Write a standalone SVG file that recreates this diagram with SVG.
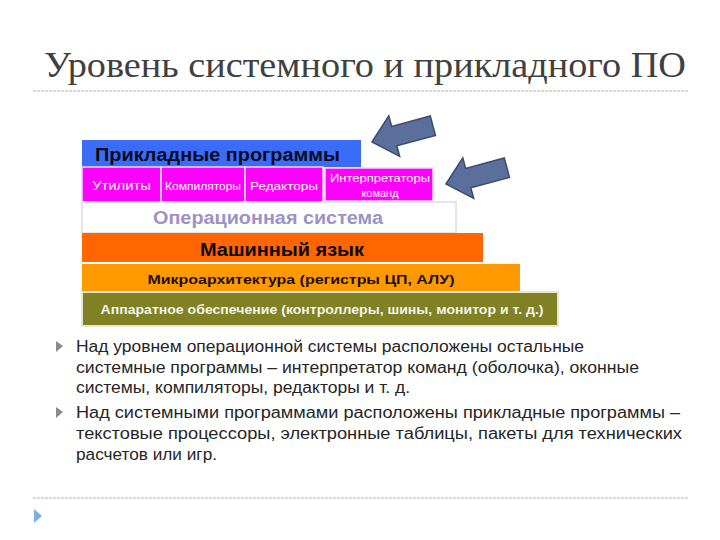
<svg xmlns="http://www.w3.org/2000/svg" width="720" height="540" viewBox="0 0 720 540">
<defs>
<style>
.title{font-family:"Liberation Serif","DejaVu Serif",serif;font-size:36px;fill:#404040}
.sans{font-family:"Liberation Sans",Arial,sans-serif}
.b{font-weight:bold}
.body{font-family:"Liberation Sans",Arial,sans-serif;font-size:16px;fill:#262626}
.arrow{fill:#5b6f9c;stroke:#3b4a6e;stroke-width:1.5}
.rule{stroke:#b0b0b0;stroke-width:1;stroke-dasharray:3 1}
.bullet{fill:#8c8c8c}
.cell{fill:#ff00ff;stroke:#f4d8f4;stroke-width:1.5}
</style>
</defs>
<rect width="720" height="540" fill="#ffffff"/>
<g id="title">
<text class="title" x="44" y="77" textLength="642" lengthAdjust="spacingAndGlyphs">Уровень системного и прикладного ПО</text>
<line class="rule" x1="33" y1="91" x2="688" y2="91"/>
</g>
<g id="app">
<rect x="82" y="140" width="279" height="27" fill="#3a6cf8"/>
<text class="sans b" x="95" y="161" font-size="18" fill="#0a0a1a" textLength="245" lengthAdjust="spacingAndGlyphs">Прикладные программы</text>
</g>
<g id="utils">
<rect class="cell" x="82" y="167" width="79" height="35"/>
<text class="sans" x="92" y="190" font-size="12" fill="#ffffff" textLength="59" lengthAdjust="spacingAndGlyphs">Утилиты</text>
</g>
<g id="compilers">
<rect class="cell" x="161" y="167" width="84" height="35"/>
<text class="sans" x="165" y="190" font-size="11" fill="#ffffff" textLength="76" lengthAdjust="spacingAndGlyphs">Компиляторы</text>
</g>
<g id="editors">
<rect class="cell" x="245" y="167" width="78" height="35"/>
<text class="sans" x="250" y="190" font-size="11.5" fill="#ffffff" textLength="68" lengthAdjust="spacingAndGlyphs">Редакторы</text>
</g>
<g id="interpreters">
<rect class="cell" x="325" y="168" width="108" height="33"/>
<text class="sans" x="380" y="182" font-size="11" fill="#ffffff" text-anchor="middle" textLength="100" lengthAdjust="spacingAndGlyphs">Интерпретаторы</text>
<text class="sans" x="380" y="197" font-size="11" fill="#ffffff" text-anchor="middle">команд</text>
</g>
<g id="os">
<rect x="82" y="202" width="374" height="31" fill="#ffffff" stroke="#dcdce6" stroke-width="1.5"/>
<text class="sans b" x="268" y="224" font-size="18" fill="#9c92c8" text-anchor="middle" textLength="230" lengthAdjust="spacingAndGlyphs">Операционная система</text>
</g>
<g id="machine">
<rect x="82" y="233" width="401" height="29" fill="#ff6600"/>
<text class="sans b" x="282" y="256" font-size="18" fill="#0a0a0a" text-anchor="middle" textLength="164" lengthAdjust="spacingAndGlyphs">Машинный язык</text>
</g>
<g id="micro">
<rect x="82" y="264" width="438" height="28" fill="#ff9900"/>
<text class="sans b" x="301" y="284" font-size="13.5" fill="#1a1010" text-anchor="middle" textLength="307" lengthAdjust="spacingAndGlyphs">Микроархитектура (регистры ЦП, АЛУ)</text>
</g>
<g id="hardware">
<rect x="82" y="292" width="476" height="34" fill="#808024" stroke="#e8e8d0" stroke-width="2"/>
<text class="sans b" x="322" y="314" font-size="12.5" fill="#f4f4ec" text-anchor="middle" textLength="443" lengthAdjust="spacingAndGlyphs">Аппаратное обеспечение (контроллеры, шины, монитор и т. д.)</text>
</g>
<g id="connectors">
<polygon class="arrow" transform="translate(372,142) rotate(-15)" points="0,0 23,-21 23,-10 63,-10 63,10 23,10 23,21"/>
<polygon class="arrow" transform="translate(446,184) rotate(-15)" points="0,0 23,-21 23,-10 63,-10 63,10 23,10 23,21"/>
</g>
<g id="bullets">
<polygon class="bullet" points="56,341 63,346 56,352"/>
<text class="body" x="76" y="352" textLength="508" lengthAdjust="spacingAndGlyphs">Над уровнем операционной системы расположены остальные</text>
<text class="body" x="76" y="373" textLength="563" lengthAdjust="spacingAndGlyphs">системные программы – интерпретатор команд (оболочка), оконные</text>
<text class="body" x="76" y="393" textLength="334" lengthAdjust="spacingAndGlyphs">системы, компиляторы, редакторы и т. д.</text>
<polygon class="bullet" points="56,407 63,412 56,418"/>
<text class="body" x="76" y="418" textLength="604" lengthAdjust="spacingAndGlyphs">Над системными программами расположены прикладные программы –</text>
<text class="body" x="76" y="439" textLength="606" lengthAdjust="spacingAndGlyphs">текстовые процессоры, электронные таблицы, пакеты для технических</text>
<text class="body" x="76" y="460" textLength="141" lengthAdjust="spacingAndGlyphs">расчетов или игр.</text>
</g>
<g id="footer">
<line class="rule" x1="33" y1="498" x2="688" y2="498"/>
<polygon points="34,509 42,516 34,523" fill="#7ab0e0"/>
</g>
</svg>
